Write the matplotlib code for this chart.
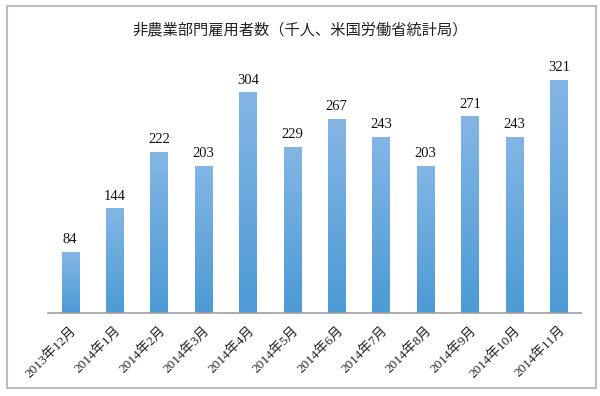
import matplotlib
matplotlib.use("Agg")
import matplotlib.pyplot as plt
import numpy as np
from matplotlib.colors import LinearSegmentedColormap
from matplotlib.patches import Rectangle

months = ["2013年12月", "2014年1月", "2014年2月", "2014年3月", "2014年4月", "2014年5月",
          "2014年6月", "2014年7月", "2014年8月", "2014年9月", "2014年10月", "2014年11月"]
values = [84, 144, 222, 203, 304, 229, 267, 243, 203, 271, 243, 321]
title = "非農業部門雇用者数（千人、米国労働省統計局）"

SERIF = ["Liberation Serif", "Noto Sans CJK JP"]
CJK = ["Noto Sans CJK JP", "DejaVu Sans"]

fig = plt.figure(figsize=(6.0, 3.96), dpi=100)
fig.patches.append(Rectangle((6.5 / 600, 1 - 388 / 396), 589 / 600, 382 / 396,
                             transform=fig.transFigure, fill=False,
                             edgecolor="#bdbdbd", linewidth=1.5))

ax = fig.add_axes([48 / 600, 1 - 313 / 396, 533 / 600, 254 / 396])
x = np.arange(len(values))
bars = ax.bar(x, values, width=0.39, color="none", edgecolor="none")

cmap = LinearSegmentedColormap.from_list("blue", ["#4c9ad6", "#84b6e5"])
grad = np.linspace(0, 1, 256).reshape(-1, 1)
for b in bars:
    bx, by, bw, bh = b.get_x(), b.get_y(), b.get_width(), b.get_height()
    im = ax.imshow(grad, cmap=cmap, origin="lower", aspect="auto",
                   extent=(bx, bx + bw, by, by + bh), zorder=2)
    im.set_clip_path(b)

for xi, v in zip(x, values):
    ax.text(xi, v + 8, str(v), ha="center", va="bottom", fontsize=10.5,
            family=SERIF, color="#111111")

ax.set_xlim(-0.5, len(values) - 0.5)
ax.set_ylim(0, 350)
ax.set_yticks([])
ax.set_xticks(x)
ax.set_xticklabels(months, rotation=45, ha="right", rotation_mode="anchor",
                   fontsize=9.5, family=SERIF, color="#222222")
ax.tick_params(axis="x", length=0, pad=8)
for s in ["top", "right", "left"]:
    ax.spines[s].set_visible(False)
ax.spines["bottom"].set_color("#a0a0a0")
ax.spines["bottom"].set_linewidth(1.2)

fig.text(0.5, 1 - 30 / 396, title, ha="center", va="center", fontsize=11,
         family=CJK, color="#222222")

fig.savefig("out.png", dpi=100)
